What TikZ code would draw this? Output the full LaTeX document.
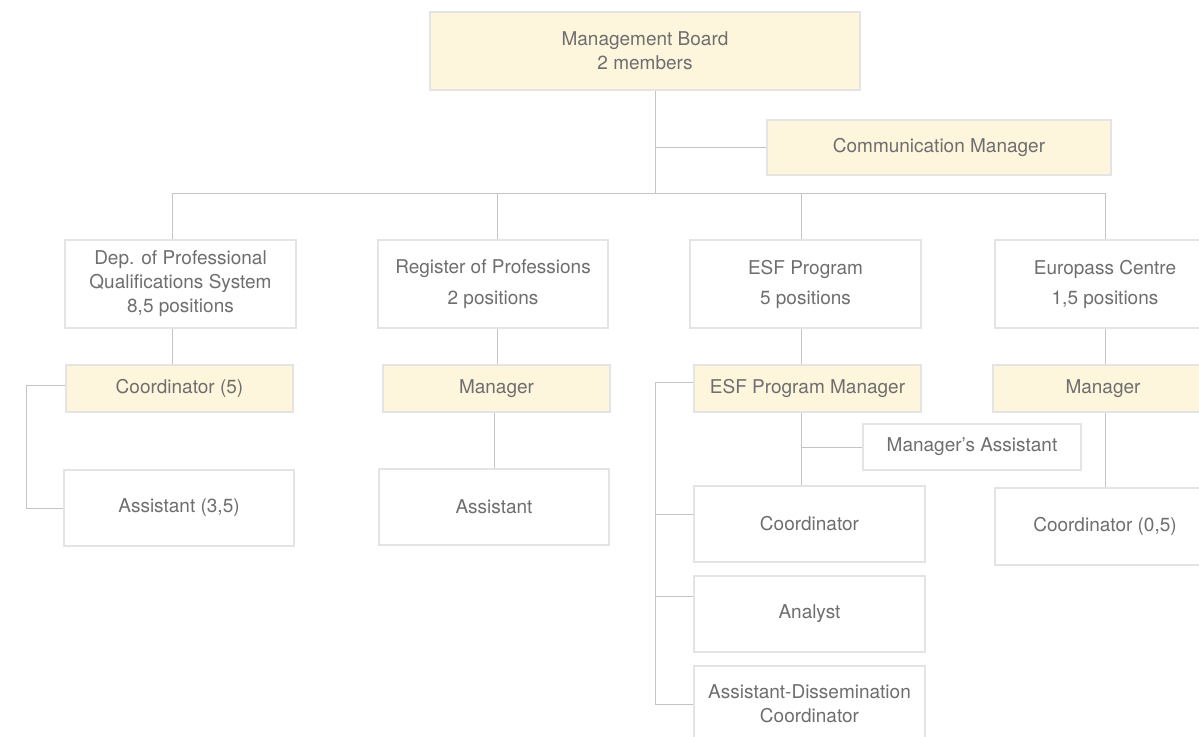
\documentclass[tikz,border=0pt]{standalone}
\usepackage{fontspec}
\setmainfont{TeX Gyre Heros}
\usepackage{tikz}
\usepackage{xcolor}
\definecolor{FontColor}{HTML}{6E6E6E}
\definecolor{LineColor}{HTML}{C4C4C4}
\definecolor{EdgeColor}{HTML}{E4E4E4}
\definecolor{YellowNC}{HTML}{FDF5DC}
\newcommand\nodemb{Management Board\\2 members}
\newcommand\nodecm{Communication Manager}
\newcommand\nodedep{Dep. of Professional\\Qualifications System\\8,5 positions}
\newcommand\nodereg{Register of Professions\\[7pt]2 positions}
\newcommand\nodeesf{ESF Program\\[6pt]5 positions}
\newcommand\nodeeur{Europass Centre\\[6pt]1,5 positions}
\newcommand\nodecoord{Coordinator (5)}
\newcommand\nodeman{Manager}
\newcommand\nodeesfman{ESF Program Manager}
\newcommand\nodeasst{Assistant (3,5)}
\newcommand\nodeassist{Assistant}
\newcommand\nodemasst{Manager’s Assistant}
\newcommand\nodeesfcoord{Coordinator}
\newcommand\nodeanalyst{Analyst}
\newcommand\nodeadc{Assistant-Dissemination\\Coordinator}
\newcommand\nodeeurcoord{Coordinator (0,5)}
\tikzstyle{boxstyle} = [rectangle, inner sep=0pt, align=center, text=FontColor, line width=1.2pt, font=\fontsize{19}{24}\selectfont]
\tikzstyle{yn} = [boxstyle, draw=EdgeColor, fill=YellowNC]
\tikzstyle{wn} = [boxstyle, draw=EdgeColor, fill=white]
\tikzset{every picture/.style={line width=1pt}}
\begin{document}
\begin{tikzpicture}[x=1pt, y=-1pt]
\useasboundingbox (0,0) rectangle (1199,736);
\node[yn, minimum width=430, minimum height=78] (mb) at (645, 51) {\nodemb};
\node[yn, minimum width=344, minimum height=55] (cm) at (939, 147.5) {\nodecm};
\node[wn, minimum width=231, minimum height=88] (dep) at (180.5, 284) {\nodedep};
\node[wn, minimum width=230, minimum height=88] (reg) at (493, 284) {\nodereg};
\node[wn, minimum width=231, minimum height=88] (esf) at (805.5, 284) {\nodeesf};
\node[wn, minimum width=220, minimum height=88] (eur) at (1105, 284) {\nodeeur};
\node[yn, minimum width=227, minimum height=47] (coord) at (179.5, 388.5) {\nodecoord};
\node[yn, minimum width=227, minimum height=47] (regman) at (496.5, 388.5) {\nodeman};
\node[yn, minimum width=227, minimum height=47] (esfman) at (807.5, 388.5) {\nodeesfman};
\node[yn, minimum width=220, minimum height=47] (eurman) at (1103, 388.5) {\nodeman};
\node[wn, minimum width=230, minimum height=76] (asst) at (179, 508) {\nodeasst};
\node[wn, minimum width=230, minimum height=76] (regasst) at (494, 507) {\nodeassist};
\node[wn, minimum width=218, minimum height=46] (masst) at (972, 447) {\nodemasst};
\node[wn, minimum width=231, minimum height=76] (esfcoord) at (809.5, 524) {\nodeesfcoord};
\node[wn, minimum width=231, minimum height=76] (analyst) at (809.5, 614) {\nodeanalyst};
\node[wn, minimum width=231, minimum height=76] (adc) at (809.5, 704) {\nodeadc};
\node[wn, minimum width=220, minimum height=77] (eurcoord) at (1105, 526.5) {\nodeeurcoord};
% bus points
\coordinate (hub) at (655, 193);
\coordinate (b1) at (172, 193);
\coordinate (b2) at (497, 193);
\coordinate (b3) at (801, 193);
\coordinate (b4) at (1105, 193);
\coordinate (dl) at (26, 0);
\coordinate (el) at (655, 0);
\draw [LineColor] (hub |- mb.south) -- (hub);
\draw [LineColor] (hub |- cm.west) -- (cm.west);
\draw [LineColor] (b1) -- (b4);
\draw [LineColor] (b1) -- (b1 |- dep.north);
\draw [LineColor] (b2) -- (b2 |- reg.north);
\draw [LineColor] (b3) -- (b3 |- esf.north);
\draw [LineColor] (b4) -- (b4 |- eur.north);
\draw [LineColor] (b1 |- dep.south) -- (b1 |- coord.north);
\draw [LineColor] (b2 |- reg.south) -- (b2 |- regman.north);
\draw [LineColor] (b3 |- esf.south) -- (b3 |- esfman.north);
\draw [LineColor] (b4 |- eur.south) -- (b4 |- eurman.north);
\draw [LineColor] ([yshift=3pt]coord.west) -| (dl |- asst.west) -- (asst.west);
\draw [LineColor] (regasst.north |- regman.south) -- (regasst.north);
\draw [LineColor] (b3 |- esfman.south) -- (b3 |- esfcoord.north);
\draw [LineColor] (b3 |- masst.west) -- (masst.west);
\draw [LineColor] ([yshift=6pt]esfman.west) -| (el |- adc.west) -- (adc.west);
\draw [LineColor] (el |- esfcoord.west) ++(0,-10) -- ([yshift=10pt]esfcoord.west);
\draw [LineColor] (el |- analyst.west) ++(0,-18) -- ([yshift=18pt]analyst.west);
\draw [LineColor] (b4 |- eurman.south) -- (b4 |- eurcoord.north);
\end{tikzpicture}
\end{document}
